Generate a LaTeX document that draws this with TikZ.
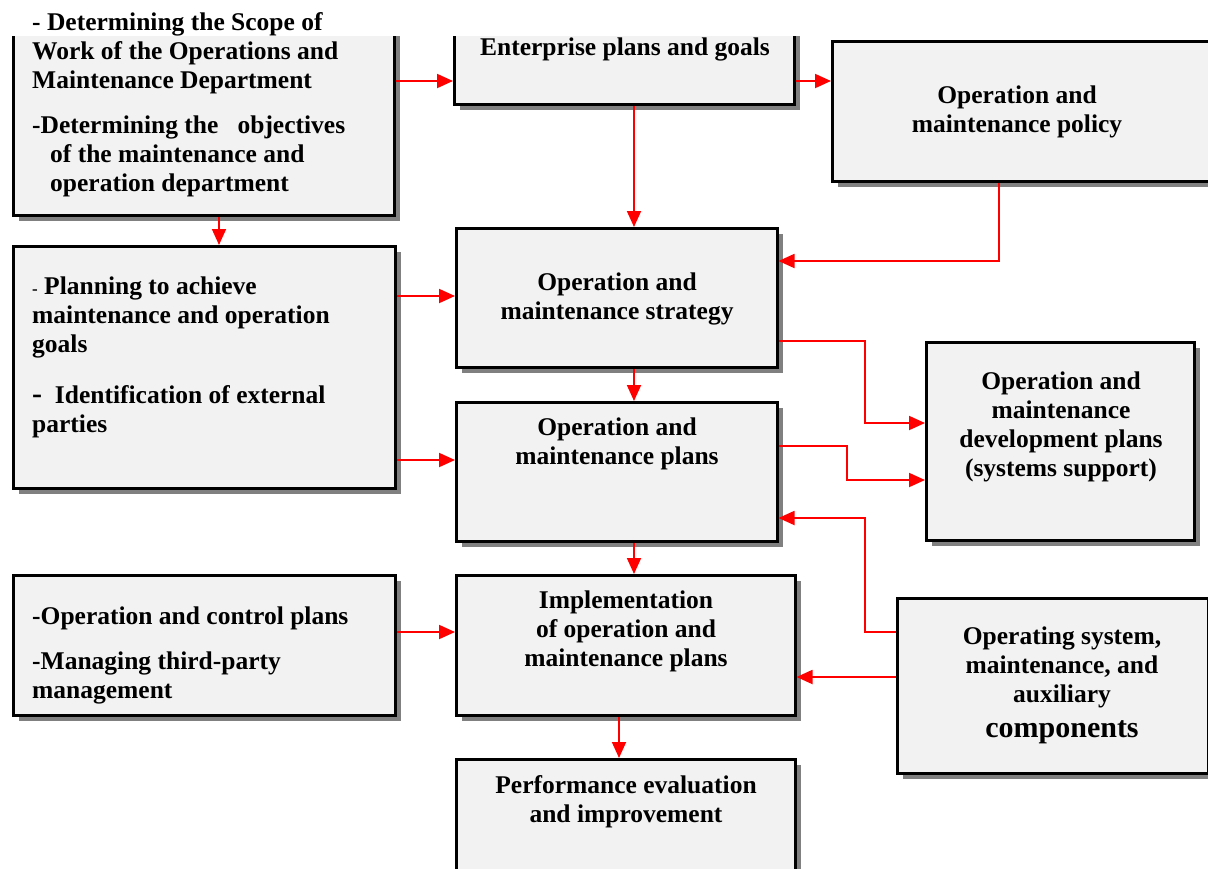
\documentclass[tikz,border=0pt]{standalone}
\usepackage{fontspec}
\setmainfont{Liberation Serif}
\usepackage{tikz}
\usetikzlibrary{arrows.meta,shadows}

\definecolor{boxgray}{RGB}{242,242,242}
\definecolor{shadowgray}{RGB}{128,128,128}

\tikzset{
  box/.style={draw=black, line width=2.5pt, fill=boxgray, inner sep=0pt, anchor=north west,
    drop shadow={shadow xshift=6pt, shadow yshift=-6pt, fill=shadowgray, opacity=1}},
  arr/.style={red, line width=1.8pt, -{Triangle[length=16pt,width=14pt]}},
  lbl/.style={font=\fontsize{25.5}{29}\selectfont\bfseries, inner sep=0pt}
}

\begin{document}
\begin{tikzpicture}[x=1pt,y=-1pt]

\useasboundingbox (0,0) rectangle (1208,868);

% Draw the boxes (the top edge of the page cuts the upper ones)
\begin{scope}
\clip (0,36) rectangle (1230,900);
\node[box, minimum width=381, minimum height=194] (scope) at (12,20) {};
\node[box, minimum width=340, minimum height=83] (ent) at (453,20) {};
\node[box, minimum width=390, minimum height=140] (policy) at (831,40) {};
\node[box, minimum width=382, minimum height=242] (planning) at (12,245) {};
\node[box, minimum width=321, minimum height=139] (strategy) at (455,227) {};
\node[box, minimum width=321, minimum height=139] (plans) at (455,401) {};
\node[box, minimum width=268, minimum height=198] (dev) at (925,341) {};
\node[box, minimum width=382, minimum height=140] (control) at (12,574) {};
\node[box, minimum width=339, minimum height=140] (impl) at (455,574) {};
\node[box, minimum width=311, minimum height=175] (opsys) at (896,597) {};
\node[box, minimum width=339, minimum height=140] (perf) at (455,758) {};
\end{scope}

% Add the texts
\node[lbl, align=left, anchor=north west] (scope-t1) at (32,12)
  {- Determining the Scope of\\Work of the Operations and\\Maintenance Department};
\node[lbl, align=left, anchor=north west] (scope-t2) at (32,116)
  {-Determining the \ \ objectives\\\hspace*{18pt}of the maintenance and\\\hspace*{18pt}operation department};
\node[lbl, anchor=north] (ent-t) at (625,38) {Enterprise plans and goals};
\node[lbl, align=center, anchor=north] (policy-t) at (1017,86) {Operation and\\maintenance policy};
\node[lbl, align=left, anchor=north west] (planning-t1) at (32,277)
  {{\fontsize{17}{17}\selectfont -} Planning to achieve\\maintenance and operation\\goals};
\node[lbl, align=left, anchor=north west] (planning-t2) at (32,385)
  {{\fontsize{30}{29}\selectfont -}\ \ Identification of external\\parties};
\node[lbl, align=center, anchor=north] (strategy-t) at (617,273) {Operation and\\maintenance strategy};
\node[lbl, align=center, anchor=north] (plans-t) at (617,418) {Operation and\\maintenance plans};
\node[lbl, align=center, anchor=north] (dev-t) at (1061,372)
  {Operation and\\maintenance\\development plans\\(systems support)};
\node[lbl, align=left, anchor=north west] (control-t1) at (32,607) {-Operation and control plans};
\node[lbl, align=left, anchor=north west] (control-t2) at (32,652) {-Managing third-party\\management};
\node[lbl, align=center, anchor=north] (impl-t) at (626,591)
  {Implementation\\of operation and\\maintenance plans};
\node[lbl, align=center, anchor=north] (opsys-t) at (1062,627)
  {Operating system,\\maintenance, and\\auxiliary\\[6pt]{\fontsize{30}{33}\selectfont components}};
\node[lbl, align=center, anchor=north] (perf-t) at (626,775) {Performance evaluation\\and improvement};

% Draw the arrows
\draw[arr] (scope.east |- 0,81) -- (ent.west |- 0,81);
\draw[arr] (ent.east |- 0,81) -- (policy.west |- 0,81);
\draw[arr] (ent.south -| 634,0) -- (strategy.north -| 634,0);
\draw[arr] (policy.south -| 999,0) |- (strategy.east |- 0,261);
\draw[arr] (scope.south -| 219,0) -- (planning.north -| 219,0);
\draw[arr] (planning.east |- 0,296) -- (strategy.west |- 0,296);
\draw[arr] (planning.east |- 0,460) -- (plans.west |- 0,460);
\draw[arr] (strategy.south -| 634,0) -- (plans.north -| 634,0);
\draw[arr] (strategy.east |- 0,341) -- (865,341) -- (865,423) -- (dev.west |- 0,423);
\draw[arr] (plans.east |- 0,446) -- (847,446) -- (847,480) -- (dev.west |- 0,480);
\draw[arr] (opsys.west |- 0,632) -- (865,632) -- (865,518) -- (plans.east |- 0,518);
\draw[arr] (opsys.west |- 0,677) -- (impl.east |- 0,677);
\draw[arr] (plans.south -| 634,0) -- (impl.north -| 634,0);
\draw[arr] (control.east |- 0,632) -- (impl.west |- 0,632);
\draw[arr] (impl.south -| 619,0) -- (perf.north -| 619,0);
\end{tikzpicture}
\end{document}
